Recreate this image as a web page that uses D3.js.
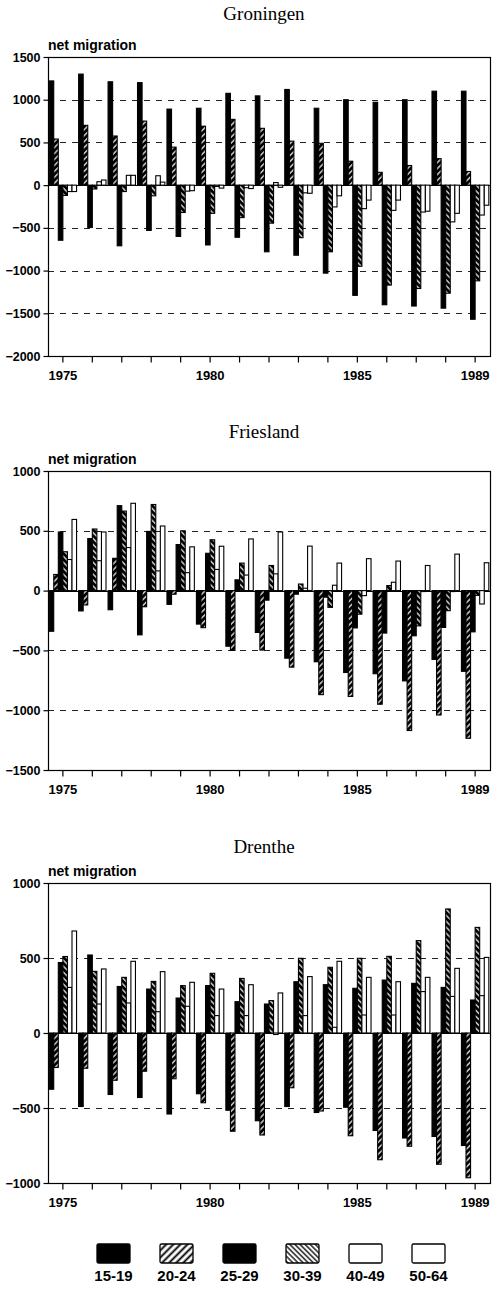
<!DOCTYPE html>
<html>
<head>
<meta charset="utf-8">
<script src="https://cdn.jsdelivr.net/npm/d3@7"></script>
<style>
  body { margin: 0; background: #fff; }
  text { font-family: "Liberation Sans", Arial, sans-serif; }
  .title { font-family: "Liberation Serif", "Times New Roman", serif; }
</style>
</head>
<body>
<script>

const width = 492;
const height = 1297;

// categories
const years = [1975, 1976, 1977, 1978, 1979, 1980, 1981, 1982, 1983, 1984, 1985, 1986, 1987, 1988, 1989];
const yearLabels = [1975, 1980, 1985, 1989];
const ages = ["15-19", "20-24", "25-29", "30-39", "40-49", "50-64"];

// net migration, one row per age group (1975 ... 1989)
const groningen = [
    [1220, 1300, 1210, 1200, 890, 900, 1075, 1045, 1120, 900, 1000, 970, 1000, 1100, 1100],
    [540, 700, 575, 750, 445, 690, 770, 665, 515, 490, 280, 150, 230, 310, 160],
    [-645, -495, -710, -530, -600, -700, -610, -780, -820, -1030, -1290, -1400, -1415, -1440, -1570],
    [-120, -45, -75, -125, -320, -330, -380, -445, -615, -780, -950, -1170, -1210, -1265, -1120],
    [-75, 40, 115, 110, -70, -15, -30, 30, -90, -255, -275, -295, -315, -430, -350],
    [-75, 60, 115, 35, -65, -35, -40, -25, -95, -125, -175, -175, -305, -330, -235]
];
const friesland = [
    [-340, -170, -160, -370, -115, -280, -465, -350, -565, -595, -685, -695, -755, -575, -675],
    [135, -120, 270, -135, -30, -310, -500, -497, -640, -870, -885, -950, -1170, -1040, -1235],
    [490, 435, 710, 495, 385, 312, 90, -80, -30, -55, -312, -355, -378, -308, -345],
    [325, 515, 665, 720, 500, 425, 230, 210, 55, -140, -197, 42, -295, -168, -40],
    [260, 250, 360, 165, 150, 177, 130, 140, 20, 45, -42, 70, -8, -8, -112],
    [595, 490, 730, 540, 366, 371, 432, 490, 372, 230, 267, 247, 210, 305, 233]
];
const drenthe = [
    [-375, -490, -410, -430, -540, -405, -515, -585, -490, -530, -495, -650, -700, -690, -750],
    [-230, -235, -315, -255, -305, -465, -655, -680, -365, -520, -685, -845, -755, -875, -965],
    [470, 520, 310, 293, 233, 316, 209, 193, 342, 322, 298, 353, 331, 304, 220],
    [510, 411, 371, 344, 316, 398, 364, 216, 498, 438, 498, 511, 616, 827, 704],
    [304, 193, 200, 142, 178, 116, 116, -10, 116, 38, 120, 120, 276, 244, 249],
    [680, 427, 478, 409, 338, 293, 322, 267, 376, 478, 371, 342, 371, 431, 504]
];

// tick labels
const groningenTicks = [1500, 1000, 500, 0, -500, -1000, -1500, -2000];
const frieslandTicks = [1000, 500, 0, -500, -1000, -1500];
const drentheTicks = [1000, 500, 0, -500, -1000];

const panels = [
    { name: "Groningen", data: groningen, ticks: groningenTicks, top: 57, bottom: 356, titleY: 20 },
    { name: "Friesland", data: friesland, ticks: frieslandTicks, top: 471, bottom: 770, titleY: 438 },
    { name: "Drenthe", data: drenthe, ticks: drentheTicks, top: 883, bottom: 1183, titleY: 853 }
];

const left = 48;
const right = 490;

const svg = d3.select("body")
    .append("svg")
    .attr("width", width)
    .attr("height", height);

const defs = svg.append("defs");

function hatch(id, angle, size, lw) {
    const p = defs.append("pattern")
        .attr("id", id)
        .attr("patternUnits", "userSpaceOnUse")
        .attr("width", size)
        .attr("height", size)
        .attr("patternTransform", "rotate(" + angle + ")");
    p.append("rect").attr("width", size).attr("height", size).attr("fill", "#fff");
    p.append("line")
        .attr("x1", size / 2).attr("y1", 0)
        .attr("x2", size / 2).attr("y2", size)
        .attr("stroke", "#000")
        .attr("stroke-width", lw);
}
hatch("fwd", 45, 4.2, 3);
hatch("bwd", -45, 4.2, 3);
hatch("fwdLegend", 45, 5, 1.9);
hatch("bwdLegend", -45, 3.6, 1.3);

function barFill(age, legend) {
    if (age == "15-19" || age == "25-29") return "#000";
    if (age == "20-24") return legend ? "url(#fwdLegend)" : "url(#fwd)";
    if (age == "30-39") return legend ? "url(#bwdLegend)" : "url(#bwd)";
    return "#fff";
}

const x0 = d3.scaleBand()
    .domain(years)
    .range([left, right])
    .paddingInner(0.07)
    .paddingOuter(0.04);

const x1 = d3.scaleBand()
    .domain(ages)
    .range([0, x0.bandwidth()]);

panels.forEach(function (p) {
    const y = d3.scaleLinear()
        .domain([p.ticks[p.ticks.length - 1], p.ticks[0]])
        .range([p.bottom, p.top]);

    const g = svg.append("g");

    g.append("text")
        .attr("class", "title")
        .attr("x", 264)
        .attr("y", p.titleY)
        .attr("text-anchor", "middle")
        .attr("font-size", 19)
        .text(p.name);

    g.append("text")
        .attr("x", left)
        .attr("y", p.top - 7)
        .attr("font-size", 14)
        .attr("font-weight", "bold")
        .text("net migration");

    // dashed grid
    g.selectAll("line.grid")
        .data(p.ticks.filter(t => t != 0 && t != p.ticks[0] && t != p.ticks[p.ticks.length - 1]))
        .join("line")
        .attr("class", "grid")
        .attr("x1", left).attr("x2", right)
        .attr("y1", d => Math.round(y(d)) + 0.5)
        .attr("y2", d => Math.round(y(d)) + 0.5)
        .attr("stroke", "#222")
        .attr("stroke-width", 1)
        .attr("stroke-dasharray", "6,6");

    g.append("line")
        .attr("x1", left).attr("x2", right)
        .attr("y1", Math.round(y(0)) + 0.5)
        .attr("y2", Math.round(y(0)) + 0.5)
        .attr("stroke", "#000")
        .attr("stroke-width", 1);

    const rows = [];
    years.forEach(function (yr, i) {
        ages.forEach(function (a, j) {
            rows.push({ year: yr, age: a, value: p.data[j][i] });
        });
    });

    g.selectAll("rect.bar")
        .data(rows)
        .join("rect")
        .attr("class", "bar")
        .attr("x", d => x0(d.year) + x1(d.age))
        .attr("y", d => y(Math.max(0, d.value)))
        .attr("width", x1.bandwidth())
        .attr("height", d => Math.abs(y(d.value) - y(0)))
        .attr("fill", d => barFill(d.age, false))
        .attr("stroke", "#000")
        .attr("stroke-width", 1.1);

    // frame
    g.append("rect")
        .attr("x", left + 0.5)
        .attr("y", p.top + 0.5)
        .attr("width", right - left)
        .attr("height", p.bottom - p.top)
        .attr("fill", "none")
        .attr("stroke", "#000")
        .attr("stroke-width", 1.2);

    const yAxis = g.append("g")
        .attr("transform", "translate(" + (left + 0.5) + ",0)")
        .call(d3.axisLeft(y).tickValues(p.ticks).tickSize(5).tickPadding(3).tickFormat(d3.format("d")));
    yAxis.select(".domain").remove();
    yAxis.selectAll("text")
        .attr("font-size", 12.5)
        .attr("font-weight", "bold")
        .attr("font-family", "Liberation Sans, Arial, sans-serif")
        .attr("fill", "#000");
    yAxis.selectAll("line").attr("stroke", "#000").attr("stroke-width", 1.2);

    const xAxis = g.append("g")
        .attr("transform", "translate(0," + (p.bottom + 0.5) + ")")
        .call(d3.axisBottom(x0).tickSize(6).tickPadding(8).tickFormat(d => yearLabels.includes(d) ? d : ""));
    xAxis.select(".domain").remove();
    xAxis.selectAll("text")
        .attr("font-size", 13)
        .attr("font-weight", "bold")
        .attr("font-family", "Liberation Sans, Arial, sans-serif")
        .attr("fill", "#000");
    xAxis.selectAll("line").attr("stroke", "#000").attr("stroke-width", 1.2);
});

// legend
const lx = d3.scalePoint()
    .domain(ages)
    .range([113.5, 428.5]);

const legend = svg.append("g");

legend.selectAll("rect")
    .data(ages)
    .join("rect")
    .attr("x", d => lx(d) - 16.5)
    .attr("y", 1244)
    .attr("width", 33)
    .attr("height", 19)
    .attr("rx", 1.5)
    .attr("fill", d => barFill(d, true))
    .attr("stroke", "#000")
    .attr("stroke-width", 1.3);

legend.selectAll("text")
    .data(ages)
    .join("text")
    .attr("x", d => lx(d))
    .attr("y", 1281)
    .attr("text-anchor", "middle")
    .attr("font-size", 15)
    .attr("font-weight", "bold")
    .text(d => d);

</script>
</body>
</html>
